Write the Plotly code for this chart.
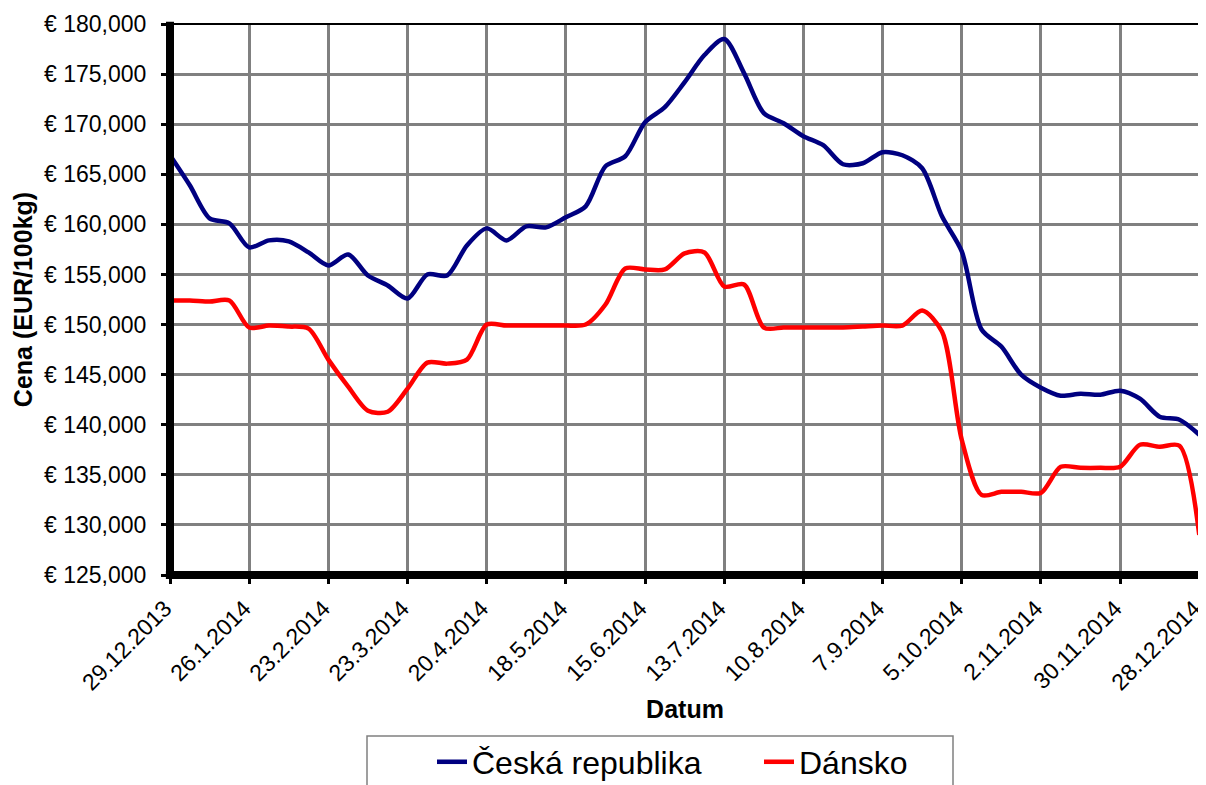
import pandas as pd
import plotly.graph_objects as go

dates = pd.date_range("2013-12-29", periods=53, freq="7D")

cz = [166.9, 163.9, 160.6, 160.1, 157.7, 158.4, 158.3, 157.2, 155.9, 157.0,
      154.9, 153.9, 152.6, 155.0, 154.9, 157.9, 159.6, 158.4, 159.8, 159.7,
      160.7, 161.8, 165.8, 166.8, 170.2, 171.7, 174.2, 176.9, 178.5, 175.1,
      171.1, 170.1, 168.8, 167.9, 166.0, 166.1, 167.2, 166.9, 165.6, 160.8,
      157.3, 149.5, 147.8, 145.0, 143.7, 142.9, 143.1, 143.0, 143.4, 142.6,
      140.8, 140.5, 139.0]
dk = [152.4, 152.4, 152.3, 152.4, 149.7, 149.9, 149.8, 149.6, 146.5, 143.8,
      141.4, 141.3, 143.6, 146.2, 146.1, 146.5, 150.0, 149.9, 149.9, 149.9,
      149.9, 150.0, 152.0, 155.6, 155.5, 155.5, 157.1, 157.2, 153.8, 154.0,
      149.7, 149.7, 149.7, 149.7, 149.7, 149.8, 149.9, 149.9, 151.4, 149.3,
      138.5, 133.0, 133.3, 133.3, 133.2, 135.8, 135.7, 135.7, 135.8, 138.0,
      137.8, 137.9, 129.0]

tick_labels = ["29.12.2013", "26.1.2014", "23.2.2014", "23.3.2014", "20.4.2014",
               "18.5.2014", "15.6.2014", "13.7.2014", "10.8.2014", "7.9.2014",
               "5.10.2014", "2.11.2014", "30.11.2014", "28.12.2014"]
tick_dates = list(dates[::4])

FONT = "Liberation Sans, Arial, sans-serif"

fig = go.Figure()
fig.add_trace(go.Scatter(x=dates, y=[v * 1000 for v in cz], name="Česká republika",
                         mode="lines", line=dict(color="#000080", width=4.5, shape="spline", smoothing=0.8)))
fig.add_trace(go.Scatter(x=dates, y=[v * 1000 for v in dk], name="Dánsko",
                         mode="lines", line=dict(color="#FF0000", width=4.5, shape="spline", smoothing=0.8)))

# page body has an 8px margin: plot area spans 170..1200 x 24..575 on screen
fig.update_layout(
    width=1198, height=777,
    margin=dict(l=162, r=6, t=16, b=210, autoexpand=False),
    paper_bgcolor="white", plot_bgcolor="white",
    font=dict(family=FONT, color="black", size=23),
    showlegend=True,
    legend=dict(orientation="h", x=(432 - 170) / 1030, xanchor="left",
                y=(575 - 762) / 551, yanchor="middle",
                borderwidth=0, bgcolor="rgba(0,0,0,0)", font=dict(size=32),
                entrywidth=282, entrywidthmode="pixels", traceorder="normal"),
)
fig.update_xaxes(
    range=[dates[0], dates[-1] + pd.Timedelta(hours=6)],
    tickvals=tick_dates, ticktext=tick_labels, tickangle=-45,
    ticklabeloverflow="allow", ticklabelshift=-5,
    showgrid=True, gridcolor="#808080", gridwidth=2.5,
    showline=False, automargin=False,
    ticks="outside", ticklen=8, tickwidth=3, tickcolor="black",
    tickfont=dict(size=23), ticklabelstandoff=2,
    title=dict(text="<b>Datum</b>", font=dict(size=25), standoff=6),
    zeroline=False,
)
fig.update_yaxes(
    range=[125000, 180000], dtick=5000,
    tickprefix="€ ", tickformat=",.0f",
    ticklabeloverflow="allow",
    showgrid=True, gridcolor="#808080", gridwidth=2.5,
    showline=False, automargin=False,
    ticks="outside", ticklen=8, tickwidth=3, tickcolor="black",
    tickfont=dict(size=23), ticklabelstandoff=10,
    title=dict(text="<b>Cena (EUR/100kg)</b>", font=dict(size=25), standoff=4),
    zeroline=False,
)
# thin frame (top/right) and thick axis lines (left/bottom)
fig.add_shape(type="rect", xref="paper", yref="paper", x0=0, x1=1, y0=0, y1=1,
              line=dict(color="black", width=2), layer="above")
fig.add_shape(type="line", xref="paper", yref="paper", x0=0, x1=0, y0=-0.004, y1=1.004,
              line=dict(color="black", width=8), layer="above")
fig.add_shape(type="line", xref="paper", yref="paper", x0=-0.004, x1=1.004, y0=0, y1=0,
              line=dict(color="black", width=8), layer="above")
# legend frame
fig.add_shape(type="rect", xref="paper", yref="paper",
              x0=(367 - 170) / 1030, x1=(953 - 170) / 1030,
              y0=(575 - 736) / 551, y1=(575 - 800) / 551,
              line=dict(color="#808080", width=1.5), layer="above")

fig.write_html("out.html")
